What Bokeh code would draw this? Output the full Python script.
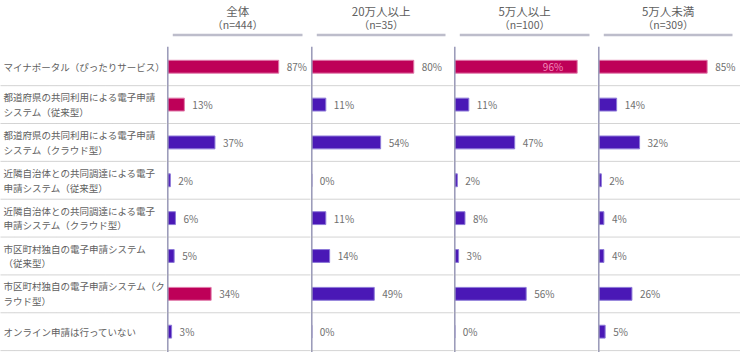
from bokeh.plotting import figure
from bokeh.layouts import row
from bokeh.models import Range1d, ColumnDataSource, Span
from bokeh.embed import file_html
from bokeh.resources import INLINE
from bokeh.core.properties import value

# ---------------- data ----------------
categories = [
    "マイナポータル（ぴったりサービス）",
    "都道府県の共同利用による電子申請\nシステム（従来型）",
    "都道府県の共同利用による電子申請\nシステム（クラウド型）",
    "近隣自治体との共同調達による電子\n申請システム（従来型）",
    "近隣自治体との共同調達による電子\n申請システム（クラウド型）",
    "市区町村独自の電子申請システム\n（従来型）",
    "市区町村独自の電子申請システム（ク\nラウド型）",
    "オンライン申請は行っていない",
]
group_names = ["全体", "20万人以上", "5万人以上", "5万人未満"]
group_n = ["（n=444）", "（n=35）", "（n=100）", "（n=309）"]

zentai = [87, 13, 37, 2, 6, 5, 34, 3]
over_200k = [80, 11, 54, 0, 11, 14, 49, 0]
over_50k = [96, 11, 47, 2, 8, 3, 56, 0]
under_50k = [85, 14, 32, 2, 4, 4, 26, 5]
series = [zentai, over_200k, over_50k, under_50k]

# highlighted (magenta) bars per group
hl_zentai = [1, 1, 0, 0, 0, 0, 1, 0]
hl_200k = [1, 0, 0, 0, 0, 0, 0, 0]
hl_50k = [1, 0, 0, 0, 0, 0, 0, 0]
hl_under = [1, 0, 0, 0, 0, 0, 0, 0]
highlights = [hl_zentai, hl_200k, hl_50k, hl_under]

# ---------------- style ----------------
MAGENTA = "#BE0058"
PURPLE = "#4A18B6"
MAGENTA_EDGE = "#E07AAA"
PURPLE_EDGE = "#8C78D8"
TXT = "#606060"
VAL_TXT = "#707070"
FONT = "Noto Sans CJK JP"
H = 352
Y_RANGE = (8.05, -1.25)
SCALE = 1.275  # px per percent
widths = [144, 143, 144, 143]
LABEL_W = 166

n = len(categories)
ycent = [i + 0.5 for i in range(n)]
bounds = [i + 1 for i in range(n)]


def add_separators(p):
    for b in bounds:
        p.add_layout(Span(location=b, dimension="width", line_color="#A8A8A8",
                          line_dash="1 1", line_width=1))


def base_fig(w, xr):
    p = figure(width=w, height=H, x_range=Range1d(*xr), y_range=Range1d(*Y_RANGE),
               output_backend="svg", toolbar_location=None, min_border=0,
               background_fill_color="white", border_fill_color="white")
    p.outline_line_color = None
    p.axis.visible = False
    p.grid.visible = False
    return p


# label column
lab = base_fig(LABEL_W, (0, LABEL_W))
add_separators(lab)
lab.text(x=[3] * n, y=ycent, text=categories, text_font=value(FONT),
         text_font_size="9.5px", text_color=TXT, text_baseline="middle",
         text_align="left", text_line_height=1.05)

figs = [lab]
for gi in range(4):
    w = widths[gi]
    x0 = -1.0
    x1 = x0 + w / SCALE
    p = base_fig(w, (x0, x1))
    add_separators(p)
    vals = series[gi]
    hl = highlights[gi]
    fill = [MAGENTA if h else PURPLE for h in hl]
    edge = [MAGENTA_EDGE if h else PURPLE_EDGE for h in hl]
    src = ColumnDataSource(dict(y=ycent, v=vals, fill=fill, edge=edge))
    p.hbar(y="y", left=0, right="v", height=0.34, fill_color="fill",
           line_color="edge", line_width=1, source=src)

    # value labels
    outside = [(yc, v) for yc, v in zip(ycent, vals) if v < 90]
    inside = [(yc, v) for yc, v in zip(ycent, vals) if v >= 90]
    if outside:
        p.text(x=[v + 8 / SCALE for _, v in outside], y=[yc for yc, _ in outside],
               text=[f"{v}%" for _, v in outside], text_font=value(FONT),
               text_font_size="10px", text_color=VAL_TXT, text_baseline="middle",
               text_align="left")
    if inside:
        p.text(x=[v - 14 / SCALE for _, v in inside], y=[yc for yc, _ in inside],
               text=[f"{v}%" for _, v in inside], text_font=value(FONT),
               text_font_size="10px", text_color="#F28CBC", text_baseline="middle",
               text_align="right")

    # axis line
    p.segment(x0=[0], y0=[-0.03], x1=[0], y1=[Y_RANGE[0]], line_color="#9C9CBA",
              line_width=1.6)

    # header
    u0 = 5 / SCALE
    u1 = x1 - 8 / SCALE
    p.segment(x0=[u0], y0=[-0.34], x1=[u1], y1=[-0.34], line_color="#BDBDCB",
              line_width=2.5)
    cx = (u0 + u1) / 2
    p.text(x=[cx], y=[-0.96], text=[group_names[gi]], text_font=value(FONT),
           text_font_size="11.5px", text_color=TXT, text_baseline="middle",
           text_align="center")
    p.text(x=[cx], y=[-0.61], text=[group_n[gi]], text_font=value(FONT),
           text_font_size="10.5px", text_color=TXT, text_baseline="middle",
           text_align="center")
    figs.append(p)

layout = row(*figs, spacing=0)
open("out.html", "w").write(file_html(layout, INLINE))
